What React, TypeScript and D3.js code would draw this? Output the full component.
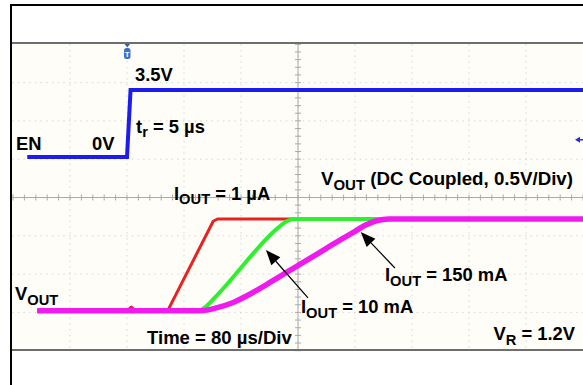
import React from "react";
import * as d3 from "d3";

// Oscilloscope capture: enable step and V_OUT start-up at three load currents.
// Time axis: 80 µs/div, 10 divisions; trigger at t = 0.
const timeDomain: [number, number] = [-160, 640];
const timeGridTicks = [-80, 0, 80, 160, 240, 320, 400, 480, 560];
const divTicks = [-3, -2, -1, 0, 1, 2, 3];

// EN channel (2 V/div)
const enTime = [-140, 0, 5, 640];
const enVolts = [0, 0, 3.5, 3.5];

// V_OUT channel (0.5 V/div), I_OUT = 1 µA
const out1uATime = [-126, 0, 6, 12, 57, 121, 127, 640];
const out1uAVolts = [0, 0, 0.05, 0, 0, 1.17, 1.2, 1.2];

// V_OUT, I_OUT = 10 mA
const out10mATime = [-126, 100, 110, 126, 214, 224, 236, 640];
const out10mAVolts = [0, 0, 0.05, 0.2, 1.1, 1.17, 1.2, 1.2];

// V_OUT, I_OUT = 150 mA
const out150mATime = [-126, 102, 124, 149, 173, 197, 221, 245, 269, 293, 317, 335, 350, 368, 640];
const out150mAVolts = [0, 0, 0.035, 0.11, 0.22, 0.35, 0.485, 0.62, 0.755, 0.89, 1.02, 1.12, 1.175, 1.2, 1.2];

const W = 583;
const H = 385;
const FONT = "'Liberation Sans', Arial, Helvetica, sans-serif";
const STRETCH = 1.05;

const x = d3.scaleLinear().domain(timeDomain).range([13, 583]);
const yDiv = d3.scaleLinear().domain([-4, 4]).range([350.7, 44.3]);

// channel offsets (div) and volts/div
const enOffset = 1.057;
const enScale = 2;
const outOffset = -2.96;
const outScale = 0.5;
const yEn = (v: number) => yDiv(enOffset + v / enScale);
const yOut = (v: number) => yDiv(outOffset + v / outScale);

type Pt = [number, number];
const zip = (t: number[], v: number[]): Pt[] => t.map((tt, i) => [tt, v[i]]);

const enLine = d3.line<Pt>().x((d) => x(d[0])).y((d) => yEn(d[1]));
const outLine = d3.line<Pt>().x((d) => x(d[0])).y((d) => yOut(d[1]));
const outSmooth = d3
  .line<Pt>()
  .x((d) => x(d[0]))
  .y((d) => yOut(d[1]))
  .curve(d3.curveMonotoneX);

// arrows: [tailT, tailV, tipT, tipV] in V_OUT channel units
const arrow10mA = [254, 0.17, 195, 0.795];
const arrow150mA = [376, 0.56, 328, 1.03];

function Arrow({ a }: { a: number[] }) {
  const x1 = x(a[0]);
  const y1 = yOut(a[1]);
  const x2 = x(a[2]);
  const y2 = yOut(a[3]);
  const ang = Math.atan2(y2 - y1, x2 - x1);
  const len = 15;
  const hw = 6;
  const bx = x2 - len * Math.cos(ang);
  const by = y2 - len * Math.sin(ang);
  const px = -Math.sin(ang) * hw;
  const py = Math.cos(ang) * hw;
  return (
    <g>
      <line x1={x1} y1={y1} x2={bx} y2={by} stroke="#000" strokeWidth={1.2} />
      <path
        d={`M${x2},${y2}L${bx + px},${by + py}L${bx - px},${by - py}Z`}
        fill="#000"
      />
    </g>
  );
}

function Label({
  main,
  sub = "",
  rest = "",
  x: tx,
  y: ty,
  size = 17.5,
  subSize = 14,
  anchor = "start",
  stretch = STRETCH,
}: {
  main: string;
  sub?: string;
  rest?: string;
  x: number;
  y: number;
  size?: number;
  subSize?: number;
  anchor?: string;
  stretch?: number;
}) {
  return (
    <text
      transform={`translate(${tx},${ty}) scale(${stretch},1)`}
      fontFamily={FONT}
      fontWeight="bold"
      fontSize={size}
      fill="#000"
      textAnchor={anchor as any}
    >
      {main}
      {sub ? (
        <tspan fontSize={subSize} dy={4.5}>
          {sub}
        </tspan>
      ) : null}
      {sub ? <tspan dy={-4.5}>{rest}</tspan> : rest}
    </text>
  );
}

export default function App() {
  const minorTicksX = d3.range(timeDomain[0], timeDomain[1] + 0.01, 16);
  const minorTicksY = d3.range(-4, 4.01, 0.2);
  const cx = x(240);
  const cy = yDiv(0);
  const lvl = yEn(0.9);

  return (
    <svg
      width={W}
      height={H}
      style={{ position: "absolute", left: 0, top: 0, display: "block" }}
    >
      <rect x={0} y={0} width={W} height={H} fill="#fff" />
      {/* screen area */}
      <rect x={12} y={43} width={W - 12} height={307} fill="#fffdf8" />

      {/* dotted graticule */}
      <g stroke="#d6d6d6" strokeWidth={1} strokeDasharray="1.5 4.2">
        {timeGridTicks.map((t) => (
          <line key={"gx" + t} x1={x(t)} x2={x(t)} y1={44} y2={349} />
        ))}
        {divTicks.map((d) => (
          <line key={"gy" + d} x1={12} x2={583} y1={yDiv(d)} y2={yDiv(d)} />
        ))}
      </g>
      {/* centre axes with minor ticks */}
      <g stroke="#aaaaaa" strokeWidth={1}>
        <line x1={cx} x2={cx} y1={44} y2={349} />
        <line x1={12} x2={583} y1={cy} y2={cy} />
        {minorTicksX.map((t) => (
          <line key={"tx" + t} x1={x(t)} x2={x(t)} y1={cy - 3} y2={cy + 3} />
        ))}
        {minorTicksY.map((d) => (
          <line key={"ty" + d} x1={cx - 3} x2={cx + 3} y1={yDiv(d)} y2={yDiv(d)} />
        ))}
      </g>

      {/* frame */}
      <line x1={11} x2={583} y1={5} y2={5} stroke="#000" strokeWidth={2} />
      <line x1={11} x2={11} y1={4} y2={H} stroke="#000" strokeWidth={2} />
      <line x1={12} x2={583} y1={43} y2={43} stroke="#6e6e6e" strokeWidth={2} />
      <line x1={12} x2={583} y1={350} y2={350} stroke="#6e6e6e" strokeWidth={2} />

      {/* trigger position marker */}
      <path d={`M${x(0) - 2.5},44L${x(0) + 3},44L${x(0) + 0.25},47.5Z`} fill="#3a5fb0" />
      <rect x={x(0) - 3} y={48} width={6.5} height={11} rx={2.5} fill="#3f6fd0" />
      <text
        x={x(0) + 0.25}
        y={57}
        fontFamily={FONT}
        fontWeight="bold"
        fontSize={8}
        textAnchor="middle"
        fill="#fff"
      >
        T
      </text>
      {/* trigger level marker */}
      <path d={`M575,${lvl}L580,${lvl - 3}L580,${lvl + 3}Z`} fill="#2a2ae0" />
      <line x1={579} x2={583} y1={lvl} y2={lvl} stroke="#2a2ae0" strokeWidth={1.5} />

      {/* traces */}
      <path d={enLine(zip(enTime, enVolts))!} fill="none" stroke="#1c1cf0" strokeWidth={4} />
      <path
        d={outLine(zip(out1uATime, out1uAVolts))!}
        fill="none"
        stroke="#e8231e"
        strokeWidth={3}
        strokeLinejoin="round"
      />
      <path
        d={outSmooth(zip(out10mATime, out10mAVolts))!}
        fill="none"
        stroke="#2ef02e"
        strokeWidth={4}
      />
      <path
        d={outSmooth(zip(out150mATime, out150mAVolts))!}
        fill="none"
        stroke="#ee1aee"
        strokeWidth={5.5}
      />

      <Arrow a={arrow10mA} />
      <Arrow a={arrow150mA} />

      {/* annotations */}
      <Label main="3.5V" x={135} y={80.5} />
      <Label main="t" sub="r" rest=" = 5 µs" x={136} y={132.5} />
      <Label main="EN" x={16} y={150} />
      <Label main="0V" x={92} y={150} />
      <Label main="I" sub="OUT" rest=" = 1 µA" x={174} y={199.5} />
      <Label main="V" sub="OUT" rest=" (DC Coupled, 0.5V/Div)" x={573} y={185} anchor="end" stretch={1.07} />
      <Label main="V" sub="OUT" x={15} y={300} />
      <Label main="I" sub="OUT" rest=" = 150 mA" x={385} y={281} />
      <Label main="I" sub="OUT" rest=" = 10 mA" x={301} y={313} />
      <Label main="Time = 80 µs/Div" x={147} y={344} size={18} stretch={1.03} />
      <Label main="V" sub="R" rest=" = 1.2V" x={575} y={340} anchor="end" />
    </svg>
  );
}
